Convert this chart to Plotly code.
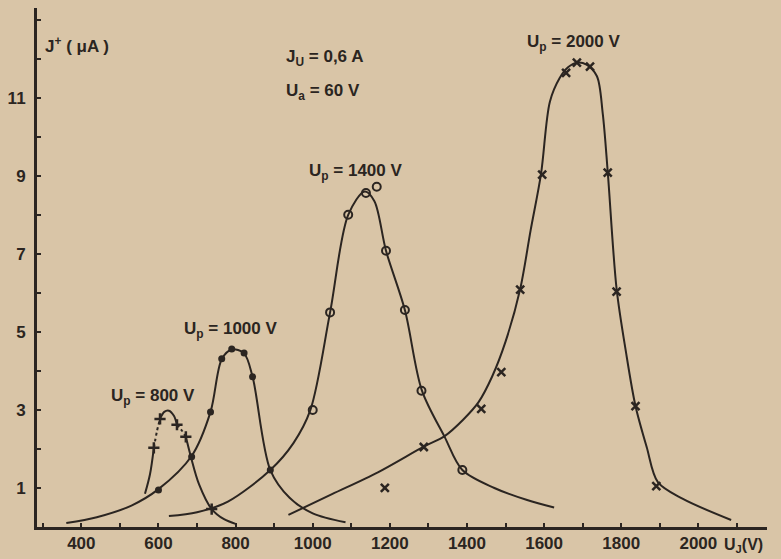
import plotly.graph_objects as go

# ---------------- data ----------------
# Up = 800 V  (curve pieces: solid / dashed)
c800_a_x = [565, 578, 588]
c800_a_y = [0.85, 1.35, 2.03]
c800_b_x = [588, 596, 604]
c800_b_y = [2.03, 2.45, 2.77]
c800_c_x = [604, 615, 627, 640, 648]
c800_c_y = [2.77, 2.95, 2.98, 2.85, 2.62]
c800_d_x = [648, 660, 671]
c800_d_y = [2.62, 2.48, 2.31]
c800_e_x = [671, 684, 705, 738, 770, 800]
c800_e_y = [2.31, 1.8, 1.1, 0.46, 0.2, 0.08]
m800_x = [588, 604, 648, 671, 738]
m800_y = [2.03, 2.77, 2.62, 2.31, 0.46]

# Up = 1000 V
c1000_x = [361, 440, 530, 600, 686, 735, 764, 790, 822, 844, 890, 940, 1000, 1085]
c1000_y = [0.1, 0.25, 0.55, 0.97, 1.82, 2.95, 4.3, 4.55, 4.45, 3.85, 1.46, 0.75, 0.35, 0.12]
m1000_x = [600, 686, 735, 764, 790, 822, 844, 890]
m1000_y = [0.95, 1.8, 2.95, 4.31, 4.56, 4.46, 3.85, 1.46]

# Up = 1400 V
c1400_x = [627, 700, 780, 890, 950, 994, 1045, 1092, 1135, 1160, 1190, 1239, 1283, 1342, 1388, 1471, 1556, 1626]
c1400_y = [0.28, 0.38, 0.65, 1.46, 2.15, 3.0, 5.5, 8.0, 8.6, 8.35, 7.08, 5.56, 3.5, 2.31, 1.46, 1.0, 0.69, 0.5]
m1400_x = [1000, 1045, 1092, 1138, 1166, 1190, 1239, 1282, 1388]
m1400_y = [3.0, 5.5, 8.0, 8.56, 8.72, 7.08, 5.56, 3.49, 1.46]

# Up = 2000 V
c2000_x = [937, 1050, 1169, 1290, 1342, 1390, 1430, 1465, 1500, 1538, 1565, 1592, 1615, 1640, 1662, 1685,
           1710, 1737, 1752, 1765, 1788, 1812, 1837, 1866, 1895, 1960, 2085]
c2000_y = [0.31, 0.84, 1.4, 2.07, 2.33, 2.75, 3.2, 3.85, 4.75, 6.1, 7.6, 9.05, 10.9, 11.5, 11.78, 11.9,
           11.85, 11.55, 10.6, 9.1, 6.1, 4.5, 3.1, 2.05, 1.15, 0.72, 0.18]
m2000_x = [1187, 1288, 1437, 1489, 1538, 1595, 1657, 1685, 1719, 1765, 1788, 1837, 1891]
m2000_y = [1.0, 2.05, 3.03, 3.97, 6.08, 9.03, 11.64, 11.9, 11.8, 9.08, 6.03, 3.1, 1.05]

x_ticks = [400, 600, 800, 1000, 1200, 1400, 1600, 1800, 2000]
y_ticks = [1, 3, 5, 7, 9, 11]

# ---------------- style ----------------
INK = "#2b2521"
BG = "#d9c5a7"
FONT = "Liberation Sans"

fig = go.Figure()


def curve(x, y, dash="solid"):
    fig.add_trace(go.Scatter(x=x, y=y, mode="lines",
                             line=dict(color=INK, width=2, shape="spline", smoothing=0.9, dash=dash),
                             hoverinfo="skip", showlegend=False))


curve(c800_a_x, c800_a_y)
curve(c800_b_x, c800_b_y, "3px,3px")
curve(c800_c_x, c800_c_y)
curve(c800_d_x, c800_d_y, "3px,3px")
curve(c800_e_x, c800_e_y)
curve(c1000_x, c1000_y)
curve(c1400_x, c1400_y)
curve(c2000_x, c2000_y)

fig.add_trace(go.Scatter(x=m800_x, y=m800_y, mode="markers", showlegend=False,
                         marker=dict(symbol="cross-thin", size=8, color=INK, line=dict(color=INK, width=2.5))))
fig.add_trace(go.Scatter(x=m1000_x, y=m1000_y, mode="markers", showlegend=False,
                         marker=dict(symbol="circle", size=7, color=INK)))
fig.add_trace(go.Scatter(x=m1400_x, y=m1400_y, mode="markers", showlegend=False,
                         marker=dict(symbol="circle-open", size=8, color=INK, line=dict(color=INK, width=2))))
fig.add_trace(go.Scatter(x=m2000_x, y=m2000_y, mode="markers", showlegend=False,
                         marker=dict(symbol="x-thin", size=8, color=INK, line=dict(color=INK, width=2.5))))

tf = dict(family=FONT, size=17, color=INK, weight="bold")
af = dict(family=FONT, size=17, color=INK, weight="bold")


def note(x, y, text, xanchor="left"):
    fig.add_annotation(x=x, y=y, text=text, showarrow=False, xanchor=xanchor, yanchor="middle",
                       font=af, xref="x", yref="y")


note(300, 12.36, "J<sup>+</sup> ( μA )")
note(925, 12.03, "J<sub>U</sub> = 0,6 A")
note(925, 11.15, "U<sub>a</sub> = 60 V")
note(985, 9.1, "U<sub>p</sub> = 1400 V")
note(1550, 12.4, "U<sub>p</sub> = 2000 V")
note(662, 5.05, "U<sub>p</sub> = 1000 V")
note(472, 3.33, "U<sub>p</sub> = 800 V")
fig.add_annotation(x=2062, y=-0.035, xref="x", yref="paper", text="U<sub>J</sub>(V)", showarrow=False,
                   xanchor="left", yanchor="middle", font=dict(family=FONT, size=16, color=INK, weight="bold"))

fig.update_layout(
    width=781, height=559,
    margin=dict(l=37, r=14, t=8, b=32, autoexpand=False),
    paper_bgcolor=BG, plot_bgcolor=BG,
    showlegend=False,
)
fig.update_xaxes(range=[285, 2178], showgrid=False, zeroline=False,
                 showline=True, linecolor=INK, linewidth=3,
                 tickvals=x_ticks, ticks="inside", ticklen=4, tickwidth=2, tickcolor=INK,
                 minor=dict(dtick=100, tick0=0, ticks="inside", ticklen=4, tickwidth=2, tickcolor=INK),
                 tickfont=tf, ticklabelstandoff=-1)
fig.update_yaxes(range=[0, 13.3], showgrid=False, zeroline=False,
                 showline=True, linecolor=INK, linewidth=3,
                 tickvals=y_ticks, ticks="inside", ticklen=4, tickwidth=2, tickcolor=INK,
                 minor=dict(dtick=1, tick0=0, ticks="inside", ticklen=4, tickwidth=2, tickcolor=INK),
                 tickfont=tf, ticklabelstandoff=5)

fig.write_html("out.html", config={"displayModeBar": False},
               post_script="document.body.style.margin='0';document.body.style.background='%s';" % BG)
